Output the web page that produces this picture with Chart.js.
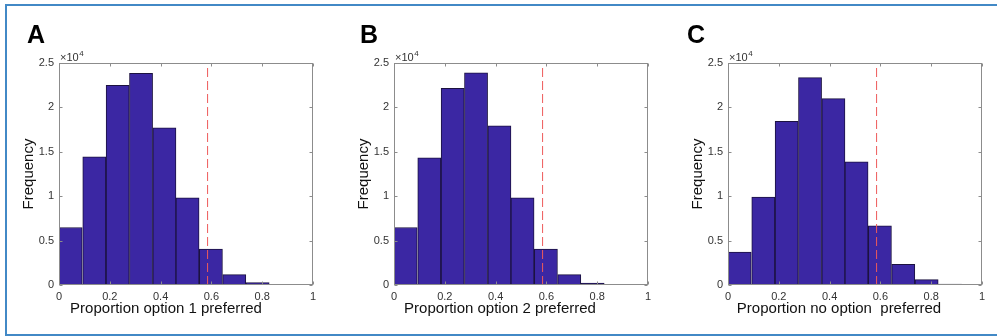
<!DOCTYPE html>
<html><head><meta charset="utf-8">
<script src="https://cdn.jsdelivr.net/npm/chart.js@4/dist/chart.umd.min.js"></script>
<style>
html,body{margin:0;padding:0;background:#fff;}
#wrap{position:relative;width:997px;height:336px;overflow:hidden;background:#fff;}
#frame{position:absolute;left:5px;top:4px;width:1000px;height:328px;border-top:2px solid #4289c6;border-left:2px solid #4289c6;border-bottom:2px solid #4289c6;}
.panel{position:absolute;top:0;width:330px;height:336px;}
</style></head>
<body>
<div id="wrap">
<div id="frame"></div>
<div class="panel" style="left:0px"><canvas id="cA" width="330" height="336"></canvas></div>
<div class="panel" style="left:334.5px"><canvas id="cB" width="330" height="336"></canvas></div>
<div class="panel" style="left:668.5px"><canvas id="cC" width="330" height="336"></canvas></div>
</div>
<script>
// ---- data ----
const binCenters = [0.046, 0.139, 0.231, 0.323, 0.415, 0.506, 0.598, 0.690, 0.782, 0.874];
const freqOption1 = [6480, 14430, 22490, 23840, 17690, 9820, 4050, 1160, 260, 75];
const freqOption2 = [6480, 14320, 22150, 23880, 17920, 9820, 4050, 1160, 225, 75];
const freqNoOption = [3710, 9900, 18440, 23350, 20990, 13870, 6670, 2320, 600, 110];
const observedValue = [0.585, 0.585, 0.585];
const panelLetters = ['A', 'B', 'C'];
const xTitles = ['Proportion option 1 preferred', 'Proportion option 2 preferred', 'Proportion no option  preferred'];
const yTitle = 'Frequency';
const xTickValues = [0, 0.2, 0.4, 0.6, 0.8, 1];
const yTickValues = [0, 5000, 10000, 15000, 20000, 25000];

const FONT = "'Liberation Sans', Arial, Helvetica, sans-serif";

const boxPlugin = {
  id: 'boxPlugin',
  afterDraw(chart, args, opts) {
    const ctx = chart.ctx;
    const {left, right, top, bottom} = chart.chartArea;
    const x = chart.scales.x, y = chart.scales.y;
    ctx.save();
    ctx.strokeStyle = '#8c8c8c';
    ctx.lineWidth = 1;
    const L = Math.round(left) + 0.5, R = Math.round(right) - 0.5, T = Math.round(top) + 0.5, B = Math.round(bottom) - 0.5;
    ctx.strokeRect(L, T, R - L, B - T);
    ctx.beginPath();
    xTickValues.forEach(v => {
      const px = Math.round(x.getPixelForValue(v)) + 0.5;
      ctx.moveTo(px, B); ctx.lineTo(px, B - 3);
      ctx.moveTo(px, T); ctx.lineTo(px, T + 3);
    });
    yTickValues.forEach(v => {
      const py = Math.round(y.getPixelForValue(v)) + 0.5;
      ctx.moveTo(L, py); ctx.lineTo(L + 3, py);
      ctx.moveTo(R, py); ctx.lineTo(R - 3, py);
    });
    ctx.stroke();
    // exponent label
    ctx.fillStyle = '#333';
    ctx.textAlign = 'left';
    ctx.textBaseline = 'alphabetic';
    ctx.font = '11px ' + FONT;
    ctx.fillText('\u00d710', left + 1, top - 2);
    const w = ctx.measureText('\u00d710').width;
    ctx.font = '8px ' + FONT;
    ctx.fillText('4', left + 1 + w + 0.5, top - 7);
    // x axis title
    ctx.fillStyle = '#111';
    ctx.font = '15px ' + FONT;
    ctx.textAlign = 'center';
    ctx.textBaseline = 'middle';
    ctx.fillText(opts.xTitle, left + opts.titleShift, 309);
    // panel letter
    ctx.fillStyle = '#000';
    ctx.textAlign = 'left';
    ctx.textBaseline = 'alphabetic';
    ctx.font = 'bold 25px ' + FONT;
    ctx.fillText(opts.letter, left + opts.letterShift, 43);
    ctx.restore();
  }
};

function makeChart(id, values, obs, letter, xTitle, letterShift, titleShift) {
  return new Chart(document.getElementById(id), {
    data: {
      datasets: [
        {
          type: 'line',
          data: [{x: obs, y: 0}, {x: obs, y: 25000}],
          borderColor: '#ee5b5b',
          borderWidth: 1,
          borderDash: [9, 4],
          pointRadius: 0,
          order: 0
        },
        {
          type: 'bar',
          data: binCenters.map((c, i) => ({x: c, y: values[i]})),
          backgroundColor: '#3b27a3',
          borderColor: '#1c1240',
          borderWidth: 1,
          barPercentage: 1,
          categoryPercentage: 1,
          order: 1
        }
      ]
    },
    options: {
      responsive: false,
      animation: false,
      events: [],
      layout: {padding: {top: 63, right: 17, left: 0, bottom: 0}},
      plugins: {legend: {display: false}, tooltip: {enabled: false},
                boxPlugin: {letter: letter, xTitle: xTitle, letterShift: letterShift, titleShift: titleShift}},
      scales: {
        x: {
          type: 'linear', min: 0, max: 1, offset: false,
          grid: {display: false, drawTicks: false, offset: false},
          border: {display: false},
          afterBuildTicks: s => { s.ticks = xTickValues.map(v => ({value: v})); },
          ticks: {color: '#333', font: {family: FONT, size: 11}, padding: 5, maxRotation: 0,
                  callback: v => String(v)},
          title: {display: false},
          afterFit: s => { s.height = 51; }
        },
        y: {
          type: 'linear', min: 0, max: 25000,
          grid: {display: false, drawTicks: false},
          border: {display: false},
          afterBuildTicks: s => { s.ticks = yTickValues.map(v => ({value: v})); },
          ticks: {color: '#333', font: {family: FONT, size: 11}, padding: 5,
                  callback: v => String(v / 10000)},
          title: {display: true, text: yTitle, color: '#111', font: {family: FONT, size: 15}, padding: {top: 20, bottom: 0}},
          afterFit: s => { s.width = 59; }
        }
      }
    },
    plugins: [boxPlugin]
  });
}

makeChart('cA', freqOption1, observedValue[0], panelLetters[0], xTitles[0], -32, 107);
makeChart('cB', freqOption2, observedValue[1], panelLetters[1], xTitles[1], -34, 106);
makeChart('cC', freqNoOption, observedValue[2], panelLetters[2], xTitles[2], -41, 111);
</script>
</body></html>
